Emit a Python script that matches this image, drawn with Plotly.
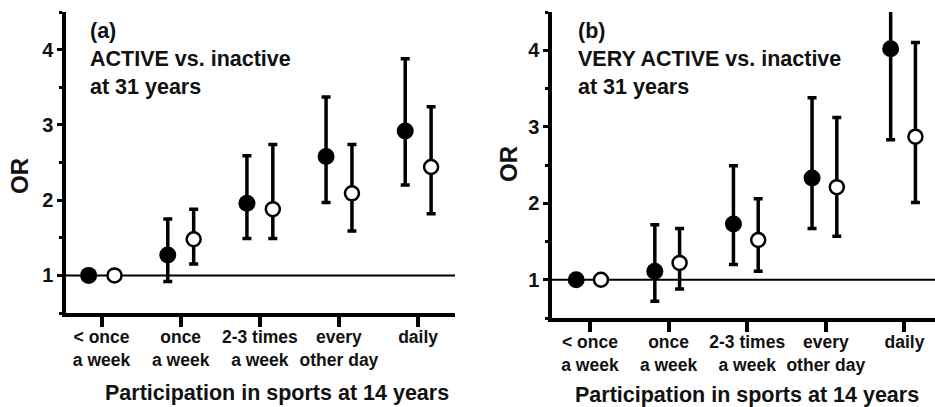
import plotly.graph_objects as go

# ---------------- data ----------------
categories = ["&lt; once<br>a week", "once<br>a week", "2-3 times<br>a week",
              "every<br>other day", "daily"]
cat_pos = [0, 1, 2, 3, 4]

# Panel (a): ACTIVE vs. inactive at 31 years
a_filled_or = [1.00, 1.27, 1.96, 2.58, 2.92]
a_filled_lo = [1.00, 0.92, 1.49, 1.97, 2.20]
a_filled_hi = [1.00, 1.75, 2.59, 3.37, 3.88]
a_open_or = [1.00, 1.48, 1.88, 2.09, 2.44]
a_open_lo = [1.00, 1.15, 1.49, 1.59, 1.82]
a_open_hi = [1.00, 1.88, 2.74, 2.74, 3.24]

# Panel (b): VERY ACTIVE vs. inactive at 31 years
b_filled_or = [1.00, 1.11, 1.73, 2.33, 4.02]
b_filled_lo = [1.00, 0.72, 1.20, 1.67, 2.83]
b_filled_hi = [1.00, 1.72, 2.49, 3.38, 5.70]
b_open_or = [1.00, 1.22, 1.52, 2.21, 2.87]
b_open_lo = [1.00, 0.88, 1.11, 1.57, 2.01]
b_open_hi = [1.00, 1.67, 2.06, 3.12, 4.10]

y_ticks = [1, 2, 3, 4]
panel_titles = ["(a)<br>ACTIVE vs. inactive<br>at 31 years",
                "(b)<br>VERY ACTIVE vs. inactive<br>at 31 years"]
x_title = "Participation in sports at 14 years"
y_title = "OR"

# ---------------- style ----------------
FONT = "Liberation Sans, Arial, sans-serif"
W, H = 935, 407


def px_x(p):
    return p / W


def px_y(p):
    return 1 - p / H


fig = go.Figure()


def add_panel(xa, ya, f_or, f_lo, f_hi, o_or, o_lo, o_hi, off_f, off_o):
    xf = [c + off_f for c in cat_pos]
    xo = [c + off_o for c in cat_pos]
    fig.add_trace(go.Scatter(
        x=xf, y=f_or, mode="markers", xaxis=xa, yaxis=ya, showlegend=False,
        marker=dict(size=17, color="black", line=dict(width=0)),
        error_y=dict(type="data", symmetric=False,
                     array=[h - v for h, v in zip(f_hi, f_or)],
                     arrayminus=[v - l for v, l in zip(f_or, f_lo)],
                     color="black", thickness=3.5, width=4.5)))
    fig.add_trace(go.Scatter(
        x=xo, y=o_or, mode="markers", xaxis=xa, yaxis=ya, showlegend=False,
        marker=dict(size=14, color="white", line=dict(width=2.5, color="black")),
        error_y=dict(type="data", symmetric=False,
                     array=[h - v for h, v in zip(o_hi, o_or)],
                     arrayminus=[v - l for v, l in zip(o_or, o_lo)],
                     color="black", thickness=3.5, width=4.5)))


add_panel("x", "y", a_filled_or, a_filled_lo, a_filled_hi,
          a_open_or, a_open_lo, a_open_hi, -0.163, 0.164)
add_panel("x2", "y2", b_filled_or, b_filled_lo, b_filled_hi,
          b_open_or, b_open_lo, b_open_hi, -0.175, 0.14)

xcommon = dict(tickmode="array", tickvals=cat_pos, ticktext=categories,
               tickangle=0, ticklabelstandoff=-5,
               showline=True, linewidth=3.5, linecolor="black", mirror=False,
               ticks="outside", ticklen=10, tickwidth=3.5, tickcolor="black",
               showgrid=False, zeroline=False, automargin=False,
               tickfont=dict(family=FONT, size=17.5, color="#111", weight="bold"))
ycommon = dict(tickmode="array", tickvals=y_ticks,
               showline=True, linewidth=3.5, linecolor="black",
               ticks="outside", ticklen=5, tickwidth=3, tickcolor="black",
               minor=dict(dtick=0.5, tick0=0.5, ticks="outside", ticklen=3,
                          tickwidth=2.5, tickcolor="black"),
               showgrid=False, zeroline=False, automargin=False,
               range=[0.5, 4.5],
               tickfont=dict(family=FONT, size=20, color="#111", weight="bold"))

fig.update_layout(
    width=W, height=H, margin=dict(l=0, r=0, t=0, b=0),
    paper_bgcolor="white", plot_bgcolor="white",
    xaxis=dict(domain=[px_x(66), px_x(455)], range=[-0.449, 4.466],
               anchor="y", **xcommon),
    yaxis=dict(domain=[px_y(313), px_y(12)], anchor="x", **ycommon),
    xaxis2=dict(domain=[px_x(552), 1.0], range=[-0.483, 4.389],
                anchor="y2", **xcommon),
    yaxis2=dict(domain=[px_y(318), px_y(12)], anchor="x2", **ycommon),
)

# reference line OR = 1
for xr, yr in [("x domain", "y"), ("x2 domain", "y2")]:
    fig.add_shape(type="line", xref=xr, yref=yr, x0=0, x1=1, y0=1, y1=1,
                  line=dict(color="black", width=2), layer="below")

# panel labels
for txt, xl in zip(panel_titles, [88, 576]):
    fig.add_annotation(text=txt, xref="paper", yref="paper",
                       x=px_x(xl), y=px_y(59), xanchor="left", yanchor="middle",
                       align="left", showarrow=False,
                       font=dict(family=FONT, size=21.5, color="#111", weight="bold"))

# axis titles
for xc, yc in [(277, 393), (747, 395)]:
    fig.add_annotation(text=x_title, xref="paper", yref="paper",
                       x=px_x(xc), y=px_y(yc), xanchor="center", yanchor="middle",
                       showarrow=False,
                       font=dict(family=FONT, size=21.5, color="#111", weight="bold"))
for xc, yc in [(19, 176), (508, 164)]:
    fig.add_annotation(text=y_title, xref="paper", yref="paper", textangle=-90,
                       x=px_x(xc), y=px_y(yc), xanchor="center", yanchor="middle",
                       showarrow=False,
                       font=dict(family=FONT, size=24, color="#111", weight="bold"))

fig.write_html("out.html")
